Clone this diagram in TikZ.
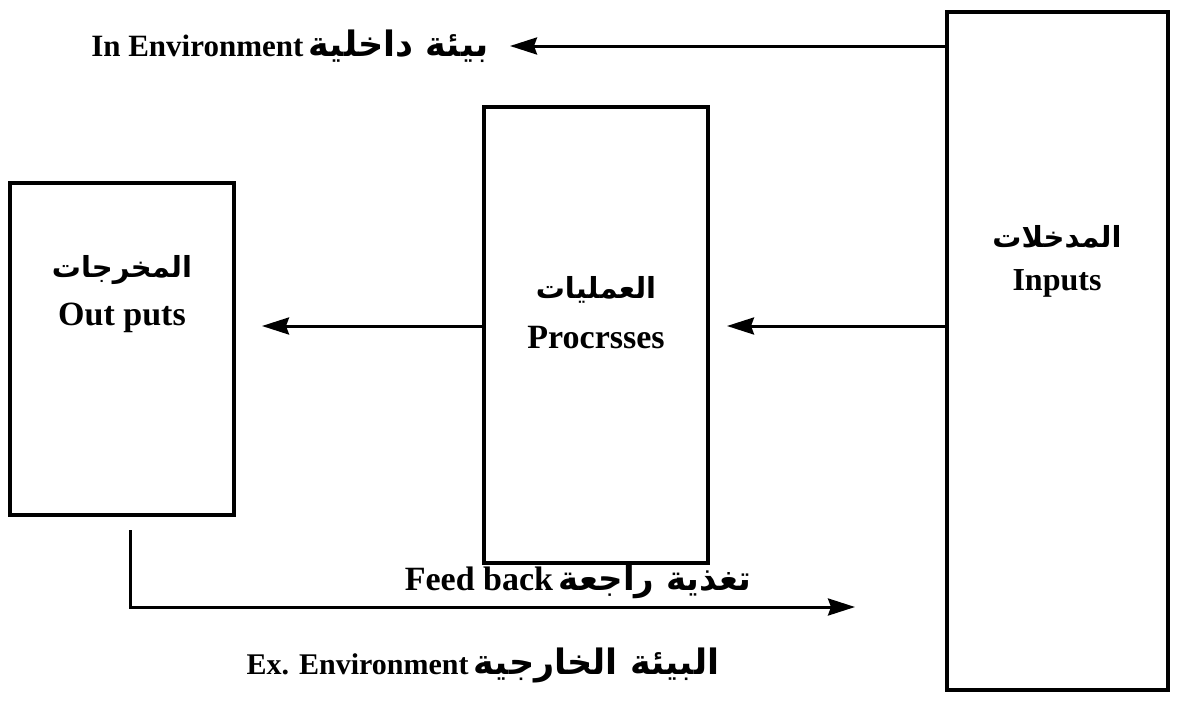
\documentclass[tikz,border=0pt]{standalone}
\usepackage{fontspec}
\setmainfont{Liberation Serif}
\newfontfamily\arabicfont[Script=Arabic]{DejaVu Sans}
\TeXXeTstate=1
\usetikzlibrary{arrows.meta}
\newcommand{\fsz}[1]{\fontsize{#1}{#1}\selectfont}
\begin{document}
\begin{tikzpicture}[x=1pt,y=-1pt,
  box/.style={draw, line width=3.2pt, inner sep=0pt},
  conn/.style={line width=3pt, -{Stealth[length=27pt,width=17pt,inset=3pt]}},
  lbl/.style={font=\bfseries, inner sep=0pt},
  ar/.style={font=\fsz{29}\bfseries\arabicfont, inner sep=0pt}]
\useasboundingbox (0,0) rectangle (1177,704);
% boxes
\node[box, minimum width=221pt, minimum height=678pt] (in) at (1057.5,351) {};
\node[box, minimum width=224pt, minimum height=456pt] (pr) at (596,335) {};
\node[box, minimum width=224pt, minimum height=332pt] (out) at (122,349) {};
% box labels
\node[ar] (inA) at (1057,237) {\beginR المدخلات\endR};
\node[lbl, font=\fsz{32}\bfseries] (inE) at (1057,283) {Inputs};
\node[ar] (prA) at (596,290) {\beginR العمليات\endR};
\node[lbl, font=\fsz{34}\bfseries] (prE) at (596,338) {Procrsses};
\node[ar] (outA) at (122,270) {\beginR المخرجات\endR};
\node[lbl, font=\fsz{34}\bfseries] (outE) at (122,318) {Out puts};
% connectors
\coordinate (e1) at (510,46);
\coordinate (e2) at (727,326);
\coordinate (e3) at (262,326);
\coordinate (f0) at (130,530);
\coordinate (f1) at (855,607);
\draw[conn] (in.west |- e1) -- (e1);
\draw[conn] (in.west |- e2) -- (e2);
\draw[conn] (pr.west |- e3) -- (e3);
\draw[conn] (f0) |- (f1);
% connector labels
\node[lbl, font=\fsz{31}\bfseries] (inEnv) at (290,46) {In Environment\,{\arabicfont\fsz{35}\beginR بيئة داخلية\endR}};
\node[lbl, font=\fsz{34}\bfseries] (fb) at (578,582) {Feed back\,{\arabicfont\fsz{34}\beginR تغذية راجعة\endR}};
\node[lbl, font=\fsz{30}\bfseries] (exEnv) at (483,665) {Ex. Environment\,{\arabicfont\fsz{35}\beginR البيئة الخارجية\endR}};
\end{tikzpicture}
\end{document}
